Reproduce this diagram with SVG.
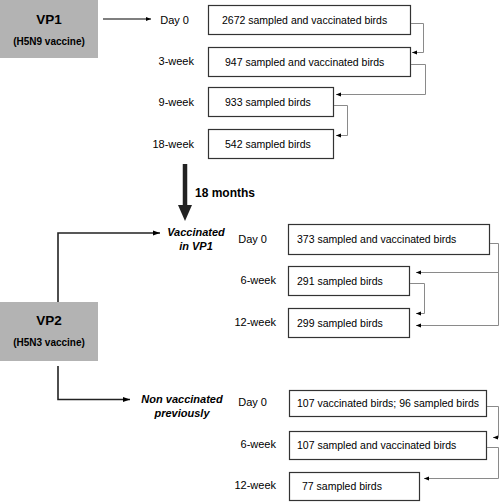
<svg xmlns="http://www.w3.org/2000/svg" width="500" height="502" viewBox="0 0 500 502">
<defs>
<style>
text{font-family:"Liberation Sans",Arial,sans-serif;fill:#000}
.lbl{font-size:11px}
.bt{font-size:10.5px}
.box{fill:#fff;stroke:#333;stroke-width:1.2}
.vp{fill:#b3b3b3;stroke:none}
.g{fill:none;stroke:#8a8a8a;stroke-width:1}
.k{fill:none;stroke:#222;stroke-width:1.6}
.it{font-size:11px;font-weight:bold;font-style:italic}
</style>
<marker id="sa" markerWidth="6" markerHeight="6" refX="5" refY="3" orient="auto" markerUnits="userSpaceOnUse">
<path d="M0,1 L5,3 L0,5 Z" fill="#000"/>
</marker>
<marker id="ka" markerWidth="8" markerHeight="8" refX="7" refY="4" orient="auto" markerUnits="userSpaceOnUse">
<path d="M0,1.5 L7,4 L0,6.5 Z" fill="#000"/>
</marker>
</defs>

<g id="vp1">
<rect class="vp" x="0" y="0" width="98" height="58"/>
<text x="49" y="24" text-anchor="middle" font-size="13.5" font-weight="bold">VP1</text>
<text x="49" y="45" text-anchor="middle" font-size="10" font-weight="bold">(H5N9 vaccine)</text>
</g>

<g id="vp2">
<rect class="vp" x="0" y="302" width="98" height="59"/>
<text x="49" y="325" text-anchor="middle" font-size="13.5" font-weight="bold">VP2</text>
<text x="49" y="346" text-anchor="middle" font-size="10" font-weight="bold">(H5N3 vaccine)</text>
</g>

<g id="labels">
<text class="lbl" x="189" y="24" text-anchor="end">Day 0</text>
<text class="lbl" x="194" y="65" text-anchor="end">3-week</text>
<text class="lbl" x="194" y="106" text-anchor="end">9-week</text>
<text class="lbl" x="194" y="148" text-anchor="end">18-week</text>
<text x="195" y="197" font-size="12" font-weight="bold">18 months</text>
<text class="it" x="196" y="236" text-anchor="middle">Vaccinated</text>
<text class="it" x="196" y="250" text-anchor="middle">in VP1</text>
<text class="it" x="182" y="403" text-anchor="middle">Non vaccinated</text>
<text class="it" x="182" y="417" text-anchor="middle">previously</text>
<text class="lbl" x="267" y="243" text-anchor="end">Day 0</text>
<text class="lbl" x="276" y="284" text-anchor="end">6-week</text>
<text class="lbl" x="276" y="326" text-anchor="end">12-week</text>
<text class="lbl" x="267" y="406" text-anchor="end">Day 0</text>
<text class="lbl" x="276" y="448" text-anchor="end">6-week</text>
<text class="lbl" x="276" y="489" text-anchor="end">12-week</text>
</g>

<g id="b1"><rect class="box" x="208.5" y="5.5" width="202" height="29"/><text class="bt" x="222" y="24">2672 sampled and vaccinated birds</text></g>
<g id="b2"><rect class="box" x="208.5" y="47.5" width="202" height="29"/><text class="bt" x="225" y="66">947 sampled and vaccinated birds</text></g>
<g id="b3"><rect class="box" x="208.5" y="87.5" width="125" height="29"/><text class="bt" x="225" y="106">933 sampled birds</text></g>
<g id="b4"><rect class="box" x="208.5" y="129.5" width="125" height="29"/><text class="bt" x="225" y="148">542 sampled birds</text></g>

<g id="c1"><rect class="box" x="288.5" y="224.5" width="201" height="30"/><text class="bt" x="297" y="243">373 sampled and vaccinated birds</text></g>
<g id="c2"><rect class="box" x="288.5" y="266.5" width="121" height="29"/><text class="bt" x="297" y="285">291 sampled birds</text></g>
<g id="c3"><rect class="box" x="288.5" y="308.5" width="121" height="29"/><text class="bt" x="297" y="327">299 sampled birds</text></g>

<g id="d1"><rect class="box" x="289.5" y="390.5" width="197" height="26"/><text class="bt" x="297" y="407">107 vaccinated birds; 96 sampled birds</text></g>
<g id="d2"><rect class="box" x="289.5" y="431.5" width="197" height="28"/><text class="bt" x="297" y="449">107 sampled and vaccinated birds</text></g>
<g id="d3"><rect class="box" x="289.5" y="472.5" width="130" height="28"/><text class="bt" x="302" y="490">77 sampled birds</text></g>

<g id="connectors">
<line x1="103" y1="19" x2="151" y2="19" stroke="#000" stroke-width="1.2" marker-end="url(#sa)"/>
<path class="g" d="M411,23.5 H423.5 V52.5 H412" marker-end="url(#sa)"/>
<path class="g" d="M411,64.5 H425.5 V94.5 H336" marker-end="url(#sa)"/>
<path class="g" d="M334,105.5 H347.5 V135.5 H336" marker-end="url(#sa)"/>

<line x1="185" y1="164" x2="185" y2="206" stroke="#222" stroke-width="4.5"/>
<path d="M178,205 L192,205 L185,221 Z" fill="#222"/>

<path class="k" d="M58,302 V233 H160" marker-end="url(#ka)"/>
<path class="k" d="M58,366 V399.5 H130" marker-end="url(#ka)"/>

<path class="g" d="M490,243.5 H498.5 V325.5 H416" marker-end="url(#sa)"/>
<path class="g" d="M498.5,272.5 H416" marker-end="url(#sa)"/>
<path class="g" d="M410,283.5 H424.5 V313.5 H416" marker-end="url(#sa)"/>

<path class="g" d="M487,406.5 H498.5 V437.5 H493" marker-end="url(#sa)"/>
<path class="g" d="M487,447.5 H498.5 V478.5 H424" marker-end="url(#sa)"/>
</g>
</svg>
